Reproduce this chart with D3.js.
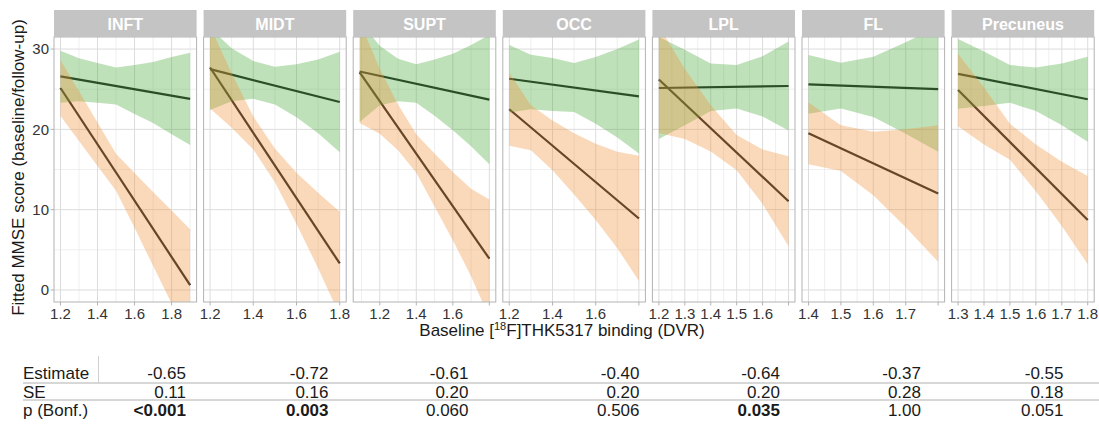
<!DOCTYPE html>
<html>
<head>
<meta charset="utf-8">
<script src="https://cdn.jsdelivr.net/npm/d3@7"></script>
<style>
  body { margin: 0; background: #fff; }
  svg { display: block; font-family: "Liberation Sans", Arial, Helvetica, sans-serif; }
</style>
</head>
<body>
<div id="chart"></div>
<script>
// regions shown as facets
const regions = ["INFT", "MIDT", "SUPT", "OCC", "LPL", "FL", "Precuneus"]

// data range of baseline DVR in each facet
const xRanges = [[1.2, 1.9], [1.2, 1.8], [1.09, 1.8], [1.2, 1.8], [1.2, 1.7], [1.4, 1.8], [1.3, 1.8]]

// x tick positions and labels (last tick of some facets has no label)
const xBreaks = [
  [1.2, 1.4, 1.6, 1.8],
  [1.2, 1.4, 1.6, 1.8],
  [1.2, 1.4, 1.6, 1.8],
  [1.2, 1.4, 1.6, 1.8],
  [1.2, 1.3, 1.4, 1.5, 1.6, 1.7],
  [1.4, 1.5, 1.6, 1.7, 1.8],
  [1.3, 1.4, 1.5, 1.6, 1.7, 1.8]
]
const xLabels = [
  ["1.2", "1.4", "1.6", "1.8"],
  ["1.2", "1.4", "1.6", "1.8"],
  ["1.2", "1.4", "1.6", ""],
  ["1.2", "1.4", "1.6", ""],
  ["1.2", "1.3", "1.4", "1.5", "1.6", ""],
  ["1.4", "1.5", "1.6", "1.7", ""],
  ["1.3", "1.4", "1.5", "1.6", "1.7", "1.8"]
]

const yBreaks = [0, 10, 20, 30]

// fitted lines (value at start and end of x range)
const greenFit = [[26.6, 23.8], [27.5, 23.4], [27.2, 23.7], [26.3, 24.1], [25.15, 25.4], [25.6, 25.0], [26.9, 23.75]]
const orangeFit = [[25.15, 0.6], [27.7, 3.3], [27.1, 3.9], [22.5, 8.9], [26.2, 11.05], [19.5, 12.0], [24.9, 8.7]]

// x positions of confidence band vertices
const ciX = [
  [1.2, 1.3, 1.4, 1.5, 1.6, 1.7, 1.8, 1.9],
  [1.2, 1.3, 1.4, 1.5, 1.6, 1.7, 1.8],
  [1.09, 1.2, 1.3, 1.4, 1.5, 1.6, 1.7, 1.8],
  [1.2, 1.3, 1.4, 1.5, 1.6, 1.7, 1.8],
  [1.2, 1.3, 1.4, 1.5, 1.6, 1.7],
  [1.4, 1.5, 1.6, 1.7, 1.8],
  [1.3, 1.4, 1.5, 1.6, 1.7, 1.8]
]
const greenUpper = [
  [29.8, 28.85, 28.25, 27.7, 28.0, 28.4, 29.0, 29.55],
  [32.6, 30.1, 28.5, 27.8, 28.1, 28.7, 29.65],
  [33.5, 30.4, 28.8, 28.1, 28.7, 29.4, 30.5, 31.75],
  [30.5, 29.3, 28.9, 28.25, 29.0, 30.0, 31.2],
  [31.5, 29.9, 28.2, 28.0, 29.1, 30.95],
  [29.25, 28.3, 29.05, 30.85, 32.8],
  [31.25, 29.7, 28.0, 27.7, 28.2, 29.05]
]
const greenLower = [
  [23.3, 23.5, 23.3, 23.1, 21.9, 20.8, 19.4, 18.05],
  [22.4, 23.5, 23.8, 23.1, 21.5, 19.5, 17.15],
  [20.9, 23.0, 23.5, 23.3, 21.7, 19.9, 17.9, 15.65],
  [22.1, 22.5, 22.3, 22.15, 20.7, 19.0, 17.0],
  [18.8, 20.5, 22.3, 22.6, 21.6, 19.85],
  [21.95, 22.6, 21.55, 19.45, 17.2],
  [22.55, 22.9, 23.3, 22.3, 20.5, 18.45]
]
const orangeUpper = [
  [28.65, 24.75, 20.85, 16.95, 14.55, 12.2, 9.9, 7.55],
  [32.8, 27.0, 21.6, 17.6, 14.6, 12.1, 9.75],
  [33.4, 27.55, 23.1, 19.4, 17.0, 14.7, 12.6, 11.25],
  [27.05, 23.0, 21.1, 19.5, 18.2, 17.2, 16.7],
  [32.85, 27.5, 23.0, 19.3, 17.5, 16.65],
  [23.35, 20.5, 19.7, 20.0, 20.5],
  [29.4, 25.2, 20.7, 18.1, 15.95, 14.2]
]
const orangeLower = [
  [21.65, 18.55, 15.45, 12.35, 7.75, 3.0, -1.7, -6.3],
  [22.6, 20.2, 17.5, 13.4, 8.2, 2.7, -3.15],
  [20.8, 19.45, 17.4, 14.6, 10.4, 6.2, 1.7, -3.45],
  [17.95, 17.4, 14.9, 11.9, 8.7, 5.2, 1.1],
  [19.55, 18.8, 17.25, 14.9, 10.7, 5.45],
  [15.65, 14.8, 11.8, 7.8, 3.5],
  [20.4, 18.1, 16.2, 12.3, 7.95, 3.2]
]

// table under the chart
const rowNames = ["Estimate", "SE", "p (Bonf.)"]
const estimates = ["-0.65", "-0.72", "-0.61", "-0.40", "-0.64", "-0.37", "-0.55"]
const stdErrors = ["0.11", "0.16", "0.20", "0.20", "0.20", "0.28", "0.18"]
const pBonf = ["<0.001", "0.003", "0.060", "0.506", "0.035", "1.00", "0.051"]
const pSignificant = [true, true, false, false, true, false, false]

// layout
const width = 1099
const height = 427
const panelLeft = 54
const panelW = 142.6
const panelStep = 149.6
const panelTop = 37
const panelBottom = 302
const stripH = 27
const colRight = [186, 328.5, 468.5, 639.5, 780, 921, 1063.5]

const greenFill = "#48a937"
const orangeFill = "#f1923a"
const bandAlpha = 0.35

const svg = d3.select("#chart").append("svg")
  .attr("width", width)
  .attr("height", height)

const yScale = d3.scaleLinear().domain([-1.5, 31.5]).range([panelBottom, panelTop])

regions.forEach((name, i) => {
  const x0 = panelLeft + i * panelStep
  const [lo, hi] = xRanges[i]
  const pad = (hi - lo) * 0.05
  const xScale = d3.scaleLinear().domain([lo - pad, hi + pad]).range([x0, x0 + panelW])

  const g = svg.append("g")

  // clip for the panel
  g.append("clipPath").attr("id", "clip" + i)
    .append("rect")
    .attr("x", x0).attr("y", panelTop)
    .attr("width", panelW).attr("height", panelBottom - panelTop)

  // minor grid: midpoints between breaks, extended across the panel
  const br = xBreaks[i]
  const step = br[1] - br[0]
  const minors = []
  for (let v = br[0] - step / 2; v <= hi + pad + 1e-9; v += step) {
    if (v >= lo - pad) minors.push(v)
  }
  g.selectAll(".xminor").data(minors).enter().append("line")
    .attr("x1", d => xScale(d)).attr("x2", d => xScale(d))
    .attr("y1", panelTop).attr("y2", panelBottom)
    .attr("stroke", "#ebebeb").attr("stroke-width", 0.8)
  g.selectAll(".yminor").data([5, 15, 25]).enter().append("line")
    .attr("x1", x0).attr("x2", x0 + panelW)
    .attr("y1", d => yScale(d)).attr("y2", d => yScale(d))
    .attr("stroke", "#ebebeb").attr("stroke-width", 0.8)

  // major grid
  g.selectAll(".xmajor").data(br).enter().append("line")
    .attr("x1", d => xScale(d)).attr("x2", d => xScale(d))
    .attr("y1", panelTop).attr("y2", panelBottom)
    .attr("stroke", "#dcdcdc").attr("stroke-width", 1)
  g.selectAll(".ymajor").data(yBreaks).enter().append("line")
    .attr("x1", x0).attr("x2", x0 + panelW)
    .attr("y1", d => yScale(d)).attr("y2", d => yScale(d))
    .attr("stroke", "#dcdcdc").attr("stroke-width", 1)

  const plot = g.append("g").attr("clip-path", `url(#clip${i})`)

  // fitted lines first, bands drawn over them
  const line = d3.line().x(d => xScale(d[0])).y(d => yScale(d[1]))
  plot.append("path")
    .attr("d", line([[lo, greenFit[i][0]], [hi, greenFit[i][1]]]))
    .attr("stroke", "#1e1e1e").attr("stroke-width", 2.2).attr("fill", "none")
  plot.append("path")
    .attr("d", line([[lo, orangeFit[i][0]], [hi, orangeFit[i][1]]]))
    .attr("stroke", "#1e1e1e").attr("stroke-width", 2.2).attr("fill", "none")

  const band = (upper, lower) => d3.area()
    .x(d => xScale(d))
    .y0((d, j) => yScale(lower[j]))
    .y1((d, j) => yScale(upper[j]))(ciX[i])

  plot.append("path")
    .attr("d", band(greenUpper[i], greenLower[i]))
    .attr("fill", greenFill).attr("fill-opacity", bandAlpha)
  plot.append("path")
    .attr("d", band(orangeUpper[i], orangeLower[i]))
    .attr("fill", orangeFill).attr("fill-opacity", bandAlpha)

  // panel border
  g.append("rect")
    .attr("x", x0).attr("y", panelTop)
    .attr("width", panelW).attr("height", panelBottom - panelTop)
    .attr("fill", "none").attr("stroke", "#b3b3b3").attr("stroke-width", 1)

  // strip
  g.append("rect")
    .attr("x", x0).attr("y", panelTop - stripH)
    .attr("width", panelW).attr("height", stripH)
    .attr("fill", "#c4c4c4")
  g.append("text")
    .attr("x", x0 + panelW / 2).attr("y", panelTop - stripH / 2 + 6)
    .attr("text-anchor", "middle")
    .attr("fill", "#fff").attr("font-weight", "bold").attr("font-size", 16)
    .text(name)

  // x axis ticks and labels
  g.selectAll(".xtick").data(br).enter().append("line")
    .attr("x1", d => xScale(d)).attr("x2", d => xScale(d))
    .attr("y1", panelBottom).attr("y2", panelBottom + 3.5)
    .attr("stroke", "#b3b3b3")
  g.selectAll(".xlab").data(br).enter().append("text")
    .attr("x", d => xScale(d)).attr("y", panelBottom + 17)
    .attr("text-anchor", "middle")
    .attr("font-size", 15).attr("fill", "#333")
    .text((d, j) => xLabels[i][j])

  // y axis only on the first facet
  if (i === 0) {
    g.selectAll(".ytick").data(yBreaks).enter().append("line")
      .attr("x1", x0 - 3.5).attr("x2", x0)
      .attr("y1", d => yScale(d)).attr("y2", d => yScale(d))
      .attr("stroke", "#b3b3b3")
    g.selectAll(".ylab").data(yBreaks).enter().append("text")
      .attr("x", x0 - 5).attr("y", d => yScale(d) + 5.3)
      .attr("text-anchor", "end")
      .attr("font-size", 15).attr("fill", "#333")
      .text(d => d)
  }
})

// axis titles
const xTitle = svg.append("text")
  .attr("x", 562).attr("y", 336)
  .attr("text-anchor", "middle")
  .attr("font-size", 17).attr("fill", "#1a1a1a")
xTitle.append("tspan").text("Baseline [")
xTitle.append("tspan").attr("font-size", 11).attr("dy", -6).text("18")
xTitle.append("tspan").attr("dy", 6).text("F]THK5317 binding (DVR)")

svg.append("text")
  .attr("transform", `translate(24,${(panelTop + panelBottom) / 2 - 2}) rotate(-90)`)
  .attr("text-anchor", "middle")
  .attr("font-size", 17).attr("fill", "#1a1a1a")
  .text("Fitted MMSE score (baseline/follow-up)")

// table
const rowY = [379, 397.5, 415.5]
const table = svg.append("g").attr("font-size", 17).attr("fill", "#1a1a1a")

table.selectAll(".rowname").data(rowNames).enter().append("text")
  .attr("x", 23).attr("y", (d, i) => rowY[i])
  .text(d => d)

const rows = [estimates, stdErrors, pBonf]
rows.forEach((vals, r) => {
  table.selectAll(".v" + r).data(vals).enter().append("text")
    .attr("x", (d, c) => colRight[c]).attr("y", rowY[r])
    .attr("text-anchor", "end")
    .attr("font-weight", (d, c) => (r === 2 && pSignificant[c]) ? "bold" : "normal")
    .text(d => d)
})

table.selectAll(".hline").data([383, 400]).enter().append("line")
  .attr("x1", 23).attr("x2", width)
  .attr("y1", d => d).attr("y2", d => d)
  .attr("stroke", "#b0b0b0").attr("stroke-width", 1)
table.append("line")
  .attr("x1", 98.5).attr("x2", 98.5)
  .attr("y1", 356).attr("y2", 383)
  .attr("stroke", "#d0d0d0").attr("stroke-width", 1)
</script>
</body>
</html>
